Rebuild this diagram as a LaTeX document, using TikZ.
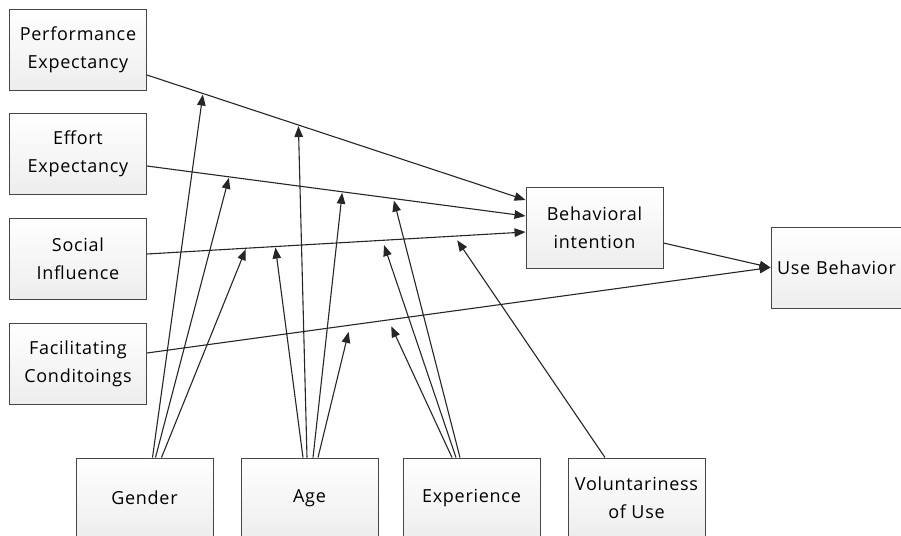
\documentclass[tikz,border=0pt]{standalone}
\usepackage{fontspec}
\setmainfont{Open Sans}[LetterSpace=4]
\usetikzlibrary{arrows.meta}

\begin{document}
\begin{tikzpicture}[x=1pt,y=-1pt,
    box/.style={draw=gray!55!black, line width=0.9pt, top color=white, bottom color=gray!14,
        minimum width=137pt, minimum height=81pt, inner sep=0pt, align=center,
        font=\fontsize{18}{28}\selectfont},
    link/.style={draw=gray!30!black, line width=1.1pt, -{Triangle[length=11pt,width=8.5pt]}}]
    \useasboundingbox (0,0) rectangle (901,535);

    % constructs
    \node[box] (pe) at (78,50) {Performance\\Expectancy};
    \node[box] (ee) at (78,154) {Effort\\Expectancy};
    \node[box] (si) at (78,258.5) {Social\\Influence};
    \node[box] (fc) at (78,364) {Facilitating\\Conditoings};
    \node[box] (bi) at (594.5,227.5) {Behavioral\\intention};
    \node[box, minimum width=160pt, text width=148pt, inner xsep=6pt, align=left] (ub) at (851,267.5) {Use Behavior};

    % moderators
    \node[box, minimum height=80pt] (gender) at (144.5,498) {Gender};
    \node[box, minimum height=80pt] (age) at (309.5,498) {Age};
    \node[box, minimum height=80pt] (exp) at (471.5,498) {Experience};
    \node[box, minimum height=80pt] (vol) at (636.5,498) {Voluntariness\\of Use};

    % main paths
    \draw[link] ([yshift=-25pt]pe.east) -- ([yshift=27.5pt]bi.west)
        coordinate[pos=0.148] (pe-g) coordinate[pos=0.40] (pe-a);
    \draw[link] ([yshift=-12pt]ee.east) -- ([yshift=11.5pt]bi.west)
        coordinate[pos=0.217] (ee-g) coordinate[pos=0.516] (ee-a) coordinate[pos=0.651] (ee-e);
    \draw[link] ([yshift=4.5pt]si.east) -- ([yshift=-4.5pt]bi.west)
        coordinate[pos=0.262] (si-g) coordinate[pos=0.339] (si-a) coordinate[pos=0.622] (si-e)
        coordinate[pos=0.812] (si-v);
    \draw[link] ([yshift=11pt]fc.east) -- (ub.west)
        coordinate[pos=0.326] (fc-a) coordinate[pos=0.387] (fc-e);
    \draw[link] ([yshift=-15.5pt]bi.east) -- (ub.west);

    % moderating effects
    \draw[link, shorten >=1pt] ([xshift=8pt]gender.north) -- (pe-g);
    \draw[link, shorten >=1pt] ([xshift=11pt]gender.north) -- (ee-g);
    \draw[link, shorten >=1pt] ([xshift=17pt]gender.north) -- (si-g);
    \draw[link, shorten >=1pt] ([xshift=-6.5pt]age.north) -- (si-a);
    \draw[link, shorten >=1pt] ([xshift=-2.5pt]age.north) -- (pe-a);
    \draw[link, shorten >=1pt] ([xshift=3.5pt]age.north) -- (ee-a);
    \draw[link, shorten >=7pt] ([xshift=8.5pt]age.north) -- (fc-a);
    \draw[link, shorten >=7pt] ([xshift=-19.5pt]exp.north) -- (fc-e);
    \draw[link, shorten >=5pt] ([xshift=-15.5pt]exp.north) -- (si-e);
    \draw[link, shorten >=2pt] ([xshift=-11.5pt]exp.north) -- (ee-e);
    \draw[link, shorten >=5pt] ([xshift=-31.5pt]vol.north) -- (si-v);
\end{tikzpicture}
\end{document}
